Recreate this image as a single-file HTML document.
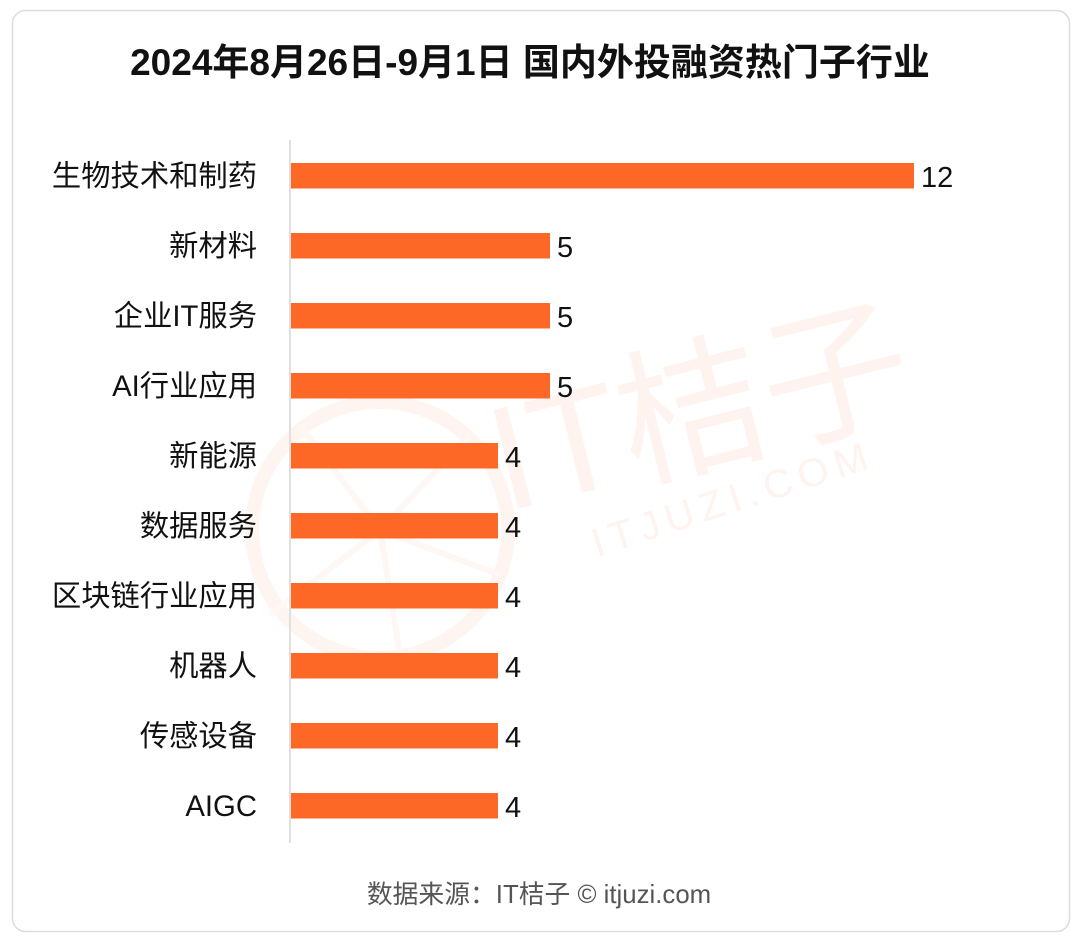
<!DOCTYPE html>
<html>
<head>
<meta charset="utf-8">
<style>
  html,body{margin:0;padding:0;background:#fff;}
  body{width:1080px;height:942px;overflow:hidden;}
  svg{display:block;}
  text{font-family:"Liberation Sans","Noto Sans CJK SC",sans-serif;}
</style>
</head>
<body>
<svg width="1080" height="942" viewBox="0 0 1080 942" xmlns="http://www.w3.org/2000/svg">
  <rect x="0" y="0" width="1080" height="942" fill="#ffffff"/>
  <rect x="12.5" y="10.5" width="1057" height="921" rx="13" ry="13" fill="#ffffff" stroke="#dcdcdc" stroke-width="1.5"/>

  <!-- watermark -->
  <g>
    <circle cx="380" cy="530" r="128" fill="none" stroke="#fef5f1" stroke-width="14"/>
    <g stroke="#fef7f4" stroke-width="6" fill="none">
      <line x1="380" y1="530" x2="300" y2="425"/>
      <line x1="380" y1="530" x2="470" y2="435"/>
      <line x1="380" y1="530" x2="500" y2="575"/>
      <line x1="380" y1="530" x2="400" y2="655"/>
      <line x1="380" y1="530" x2="270" y2="615"/>
    </g>
    <text x="505" y="512" transform="rotate(-14 505 512)" font-size="148" fill="#fef3ee">IT桔子</text>
    <text x="597" y="557" transform="rotate(-18 597 557)" font-size="40" letter-spacing="7" fill="#fef3ee">ITJUZI.COM</text>
  </g>

  <!-- title -->
  <text x="530" y="75" font-size="37" font-weight="bold" fill="#111" text-anchor="middle">2024年8月26日-9月1日 国内外投融资热门子行业</text>

  <!-- axis -->
  <line x1="290" y1="140" x2="290" y2="843" stroke="#e0e0e0" stroke-width="2"/>

  <!-- bars -->
  <g fill="#fd6826">
    <rect x="291" y="163" width="623" height="25.5"/>
    <rect x="291" y="233" width="259" height="25.5"/>
    <rect x="291" y="303" width="259" height="25.5"/>
    <rect x="291" y="373" width="259" height="25.5"/>
    <rect x="291" y="443" width="207" height="25.5"/>
    <rect x="291" y="513" width="207" height="25.5"/>
    <rect x="291" y="583" width="207" height="25.5"/>
    <rect x="291" y="653" width="207" height="25.5"/>
    <rect x="291" y="723" width="207" height="25.5"/>
    <rect x="291" y="793" width="207" height="25.5"/>
  </g>

  <!-- category labels -->
  <g font-size="29.3" fill="#111" text-anchor="end">
    <text x="257" y="186">生物技术和制药</text>
    <text x="257" y="256">新材料</text>
    <text x="257" y="326">企业IT服务</text>
    <text x="257" y="396">AI行业应用</text>
    <text x="257" y="466">新能源</text>
    <text x="257" y="536">数据服务</text>
    <text x="257" y="606">区块链行业应用</text>
    <text x="257" y="676">机器人</text>
    <text x="257" y="746">传感设备</text>
    <text x="257" y="816">AIGC</text>
  </g>

  <!-- value labels -->
  <g font-size="29" fill="#111">
    <text x="921" y="187">12</text>
    <text x="557" y="257">5</text>
    <text x="557" y="327">5</text>
    <text x="557" y="397">5</text>
    <text x="505" y="467">4</text>
    <text x="505" y="537">4</text>
    <text x="505" y="607">4</text>
    <text x="505" y="677">4</text>
    <text x="505" y="747">4</text>
    <text x="505" y="817">4</text>
  </g>

  <!-- footer -->
  <text x="539" y="903" font-size="25.8" fill="#555" text-anchor="middle">数据来源：IT桔子 © itjuzi.com</text>
</svg>
</body>
</html>
